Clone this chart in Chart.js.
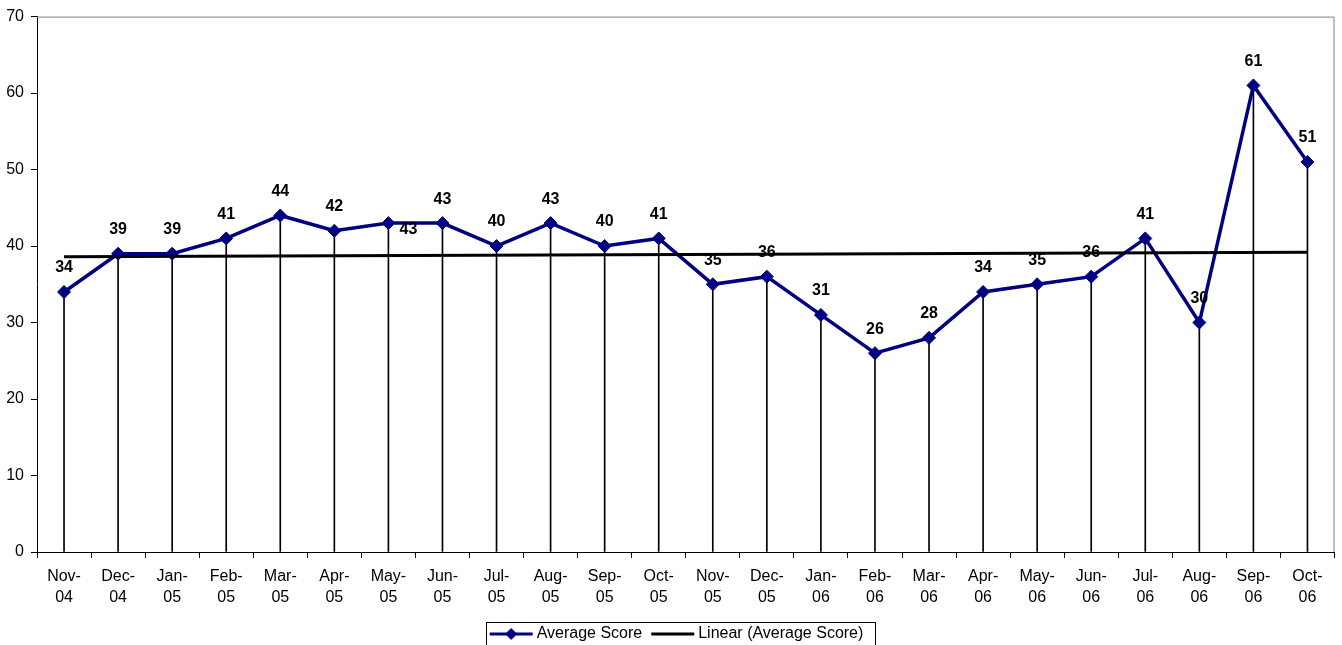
<!DOCTYPE html>
<html>
<head>
<meta charset="utf-8">
<script src="https://cdn.jsdelivr.net/npm/chart.js@4"></script>
<style>
  html, body { margin: 0; padding: 0; background: #fff; }
  #wrap { width: 1342px; height: 645px; position: relative; }
</style>
</head>
<body>
<div id="wrap"><canvas id="c" width="1342" height="645"></canvas></div>
<script>
// ---- data ----
const categories = [
  ["Nov-","04"],["Dec-","04"],["Jan-","05"],["Feb-","05"],["Mar-","05"],["Apr-","05"],
  ["May-","05"],["Jun-","05"],["Jul-","05"],["Aug-","05"],["Sep-","05"],["Oct-","05"],
  ["Nov-","05"],["Dec-","05"],["Jan-","06"],["Feb-","06"],["Mar-","06"],["Apr-","06"],
  ["May-","06"],["Jun-","06"],["Jul-","06"],["Aug-","06"],["Sep-","06"],["Oct-","06"]
];
const averageScore = [34,39,39,41,44,42,43,43,40,43,40,41,35,36,31,26,28,34,35,36,41,30,61,51];
// trend line endpoints (start, end)
const trendStart = 38.6;
const trendEnd = 39.2;
const trendValues = categories.map((_, i) => i === 0 ? trendStart : (i === categories.length - 1 ? trendEnd : null));
const yTicks = [0,10,20,30,40,50,60,70];
const seriesNames = ["Average Score", "Linear (Average Score)"];

// ---- styling ----
const FONT = "'Liberation Sans', Arial, sans-serif";
const NAVY = '#000080';
Chart.defaults.color = '#000';
Chart.defaults.font.family = FONT;
Chart.defaults.font.size = 16;

function makeSample(color, diamond) {
  const c = document.createElement('canvas');
  c.width = 45; c.height = 16;
  const g = c.getContext('2d');
  g.strokeStyle = color; g.lineWidth = 3;
  g.beginPath(); g.moveTo(1, 8); g.lineTo(44, 8); g.stroke();
  if (diamond) {
    g.fillStyle = color;
    g.beginPath(); g.moveTo(22.5, 2); g.lineTo(28.5, 8); g.lineTo(22.5, 14); g.lineTo(16.5, 8); g.closePath(); g.fill();
  }
  return c;
}
const sampleAvg = makeSample(NAVY, true);
const sampleLin = makeSample('#000', false);

const labelOffsets = { 6: [20, 6] };
const LEGEND_SHIFT = 10;

const framePlugin = {
  id: 'frame',
  beforeDatasetsDraw(chart) {
    const {ctx, chartArea: a} = chart;
    ctx.save();
    ctx.strokeStyle = '#808080'; ctx.lineWidth = 1;
    ctx.beginPath();
    ctx.moveTo(a.left, a.top + 0.5); ctx.lineTo(a.right - 0.5, a.top + 0.5); ctx.lineTo(a.right - 0.5, a.bottom);
    ctx.stroke();
    ctx.restore();
  }
};

const dataLabelPlugin = {
  id: 'dlabels',
  afterDatasetsDraw(chart) {
    const meta = chart.getDatasetMeta(0);
    const {ctx} = chart;
    ctx.save();
    ctx.font = 'bold 16px ' + FONT;
    ctx.fillStyle = '#000';
    ctx.textAlign = 'center';
    ctx.textBaseline = 'middle';
    meta.data.forEach((pt, i) => {
      const off = labelOffsets[i] || [0, -24];
      ctx.fillText(String(averageScore[i]), pt.x + off[0], pt.y + off[1]);
    });
    ctx.restore();
  }
};

const legendShiftPlugin = {
  id: 'legendShift',
  afterLayout(chart) {
    const lg = chart.legend;
    if (!lg) return;
    lg.left += LEGEND_SHIFT; lg.right += LEGEND_SHIFT;
    (lg.legendHitBoxes || []).forEach(h => { h.left += LEGEND_SHIFT; });
  }
};

const legendBoxPlugin = {
  id: 'legendBox',
  afterDraw(chart) {
    const lg = chart.legend;
    if (!lg || !lg.legendHitBoxes || !lg.legendHitBoxes.length) return;
    const hb = lg.legendHitBoxes;
    const left = Math.min(...hb.map(h => h.left)) - 8;
    const right = Math.max(...hb.map(h => h.left + h.width)) + 11;
    const top = hb[0].top - 4;
    const {ctx} = chart;
    ctx.save();
    ctx.strokeStyle = '#000'; ctx.lineWidth = 1;
    ctx.strokeRect(Math.round(left) + 0.5, Math.round(top) + 0.5, Math.round(right - left), 40);
    ctx.restore();
  }
};

new Chart(document.getElementById('c'), {
  data: {
    labels: categories,
    datasets: [
      {
        type: 'line',
        label: seriesNames[0],
        data: averageScore,
        borderColor: NAVY,
        backgroundColor: NAVY,
        borderWidth: 3.5,
        pointStyle: 'rectRot',
        pointRadius: 6.5,
        pointBorderWidth: 1,
        pointBackgroundColor: NAVY,
        pointBorderColor: NAVY,
        tension: 0,
        order: 2
      },
      {
        type: 'line',
        label: seriesNames[1],
        data: trendValues,
        borderColor: '#000',
        backgroundColor: '#000',
        borderWidth: 3,
        pointRadius: 0,
        spanGaps: true,
        tension: 0,
        order: 1
      },
      {
        type: 'bar',
        label: 'drop',
        data: averageScore,
        backgroundColor: '#000',
        borderWidth: 0,
        barThickness: 1,
        order: 3
      }
    ]
  },
  options: {
    responsive: false,
    animation: false,
    devicePixelRatio: 1,
    layout: { padding: { left: 0, right: 5, top: 15, bottom: -7 } },
    plugins: {
      tooltip: { enabled: false },
      legend: {
        position: 'bottom',
        labels: {
          usePointStyle: true,
          pointStyleWidth: 35,
          padding: 13,
          font: { size: 16, family: FONT },
          color: '#000',
          generateLabels() {
            return [
              { text: seriesNames[0], datasetIndex: 0, pointStyle: sampleAvg, fillStyle: NAVY, strokeStyle: NAVY, lineWidth: 0, hidden: false, fontColor: '#000' },
              { text: seriesNames[1], datasetIndex: 1, pointStyle: sampleLin, fillStyle: '#000', strokeStyle: '#000', lineWidth: 0, hidden: false, fontColor: '#000' }
            ];
          }
        }
      }
    },
    scales: {
      x: {
        type: 'category',
        offset: true,
        grid: { offset: true, drawOnChartArea: false, drawTicks: true, tickLength: 6, color: '#000' },
        border: { color: '#000', width: 1 },
        ticks: { autoSkip: false, maxRotation: 0, minRotation: 0, padding: 8, color: '#000', font: { size: 16, family: FONT, lineHeight: 1.3 } },
        afterFit(s) { s.height = 61; }
      },
      y: {
        min: 0, max: 70,
        afterBuildTicks(s) { s.ticks = yTicks.map(v => ({ value: v })); },
        grid: { drawOnChartArea: false, drawTicks: true, tickLength: 6, color: '#000' },
        border: { color: '#000', width: 1 },
        ticks: { padding: 7, color: '#000', font: { size: 16, family: FONT } },
        afterFit(s) { s.width = 37; }
      }
    }
  },
  plugins: [framePlugin, dataLabelPlugin, legendShiftPlugin, legendBoxPlugin]
});
</script>
</body>
</html>
